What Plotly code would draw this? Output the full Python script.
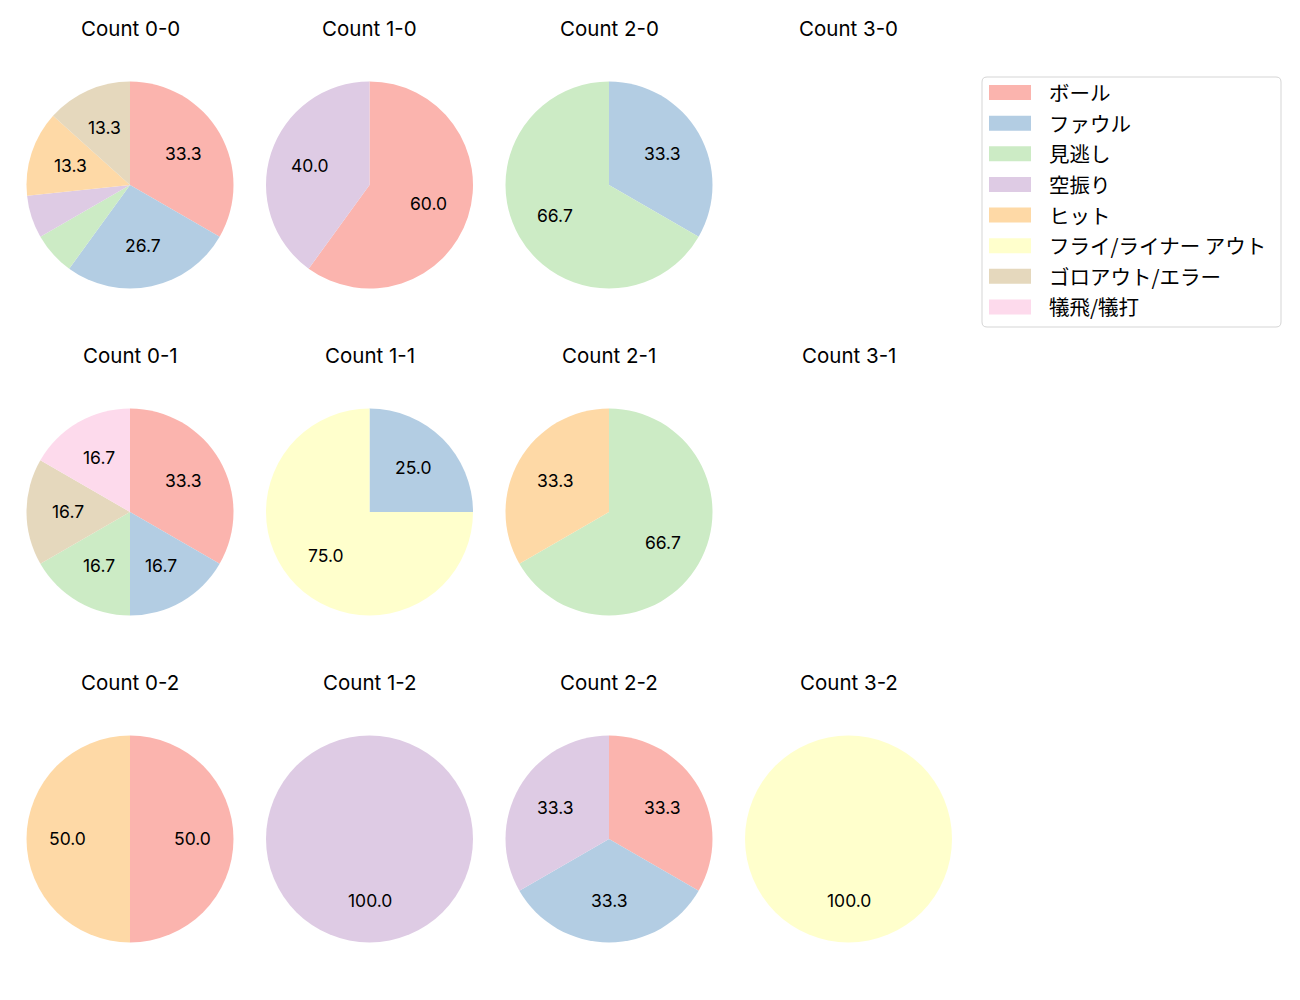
import math
import plotly.graph_objects as go

# ---- data ----
categories = ["ボール", "ファウル", "見逃し", "空振り", "ヒット",
              "フライ/ライナー アウト", "ゴロアウト/エラー", "犠飛/犠打"]
colors = ["#fbb4ae", "#b3cde3", "#ccebc5", "#decbe4", "#fed9a6",
          "#ffffcc", "#e5d8bd", "#fddaec"]

count_names = ["0-0", "1-0", "2-0", "3-0",
               "0-1", "1-1", "2-1", "3-1",
               "0-2", "1-2", "2-2", "3-2"]

c_0_0 = [5, 4, 1, 1, 2, 0, 2, 0]
c_1_0 = [3, 0, 0, 2, 0, 0, 0, 0]
c_2_0 = [0, 1, 2, 0, 0, 0, 0, 0]
c_3_0 = [0, 0, 0, 0, 0, 0, 0, 0]
c_0_1 = [2, 1, 1, 0, 0, 0, 1, 1]
c_1_1 = [0, 1, 0, 0, 0, 3, 0, 0]
c_2_1 = [0, 0, 2, 0, 1, 0, 0, 0]
c_3_1 = [0, 0, 0, 0, 0, 0, 0, 0]
c_0_2 = [1, 0, 0, 0, 1, 0, 0, 0]
c_1_2 = [0, 0, 0, 1, 0, 0, 0, 0]
c_2_2 = [1, 1, 0, 1, 0, 0, 0, 0]
c_3_2 = [0, 0, 0, 0, 0, 1, 0, 0]

count_values = [c_0_0, c_1_0, c_2_0, c_3_0,
                c_0_1, c_1_1, c_2_1, c_3_1,
                c_0_2, c_1_2, c_2_2, c_3_2]

# ---- layout helpers (pixels) ----
W, H = 1300, 1000
LATIN = "Inter, Noto Sans CJK JP"
CJK = "Noto Sans CJK JP"
col_x0, col_step = 130.0, 239.5
row_y0, row_step = 185.0, 327.0
R = 103.5
MIN_PCT_LABEL = 10.0


def px(x):
    return x / W


def py(y):
    return 1 - y / H


fig = go.Figure()
annotations = []
shapes = []

for i, (name, vals) in enumerate(zip(count_names, count_values)):
    row, col = divmod(i, 4)
    cx = col_x0 + col * col_step
    cy = row_y0 + row * row_step
    annotations.append(dict(
        text=f"Count {name}", x=px(cx), y=py(cy - 157), xref="paper", yref="paper",
        showarrow=False, xanchor="center", yanchor="middle",
        font=dict(family=LATIN, size=20.5, color="black")))
    total = sum(vals)
    if total == 0:
        continue
    labs = [c for c, v in zip(categories, vals) if v > 0]
    vs = [v for v in vals if v > 0]
    cols = [colors[k] for k, v in enumerate(vals) if v > 0]
    fig.add_trace(go.Pie(
        labels=labs, values=vs, sort=False, direction="clockwise", rotation=0,
        marker=dict(colors=cols, line=dict(width=0)),
        textinfo="none", hoverinfo="label+percent", showlegend=False,
        domain=dict(x=[px(cx - R), px(cx + R)], y=[py(cy + R), py(cy - R)])))
    # percentage labels at 0.6 radius (clockwise from 12 o'clock)
    start = 90.0
    for v in vs:
        sweep = 360.0 * v / total
        pct = 100.0 * v / total
        mid = math.radians(start - sweep / 2)
        tx = cx + 0.6 * R * math.cos(mid)
        ty = cy - 0.6 * R * math.sin(mid)
        if pct >= MIN_PCT_LABEL:
            annotations.append(dict(
                text=f"{pct:.1f}", x=px(tx), y=py(ty - 0.5),
                xref="paper", yref="paper", showarrow=False,
                xanchor="center", yanchor="middle",
                font=dict(family=LATIN, size=17.5, color="black")))
        start -= sweep

# ---- legend (drawn manually to mimic the reference) ----
lx0, lx1, ly0, ly1, rad = 982, 1281, 77, 327, 5


def rounded_box(x0, y0, x1, y1, r):
    pts = [
        f"M {px(x0 + r)},{py(y0)}",
        f"L {px(x1 - r)},{py(y0)}",
        f"Q {px(x1)},{py(y0)} {px(x1)},{py(y0 + r)}",
        f"L {px(x1)},{py(y1 - r)}",
        f"Q {px(x1)},{py(y1)} {px(x1 - r)},{py(y1)}",
        f"L {px(x0 + r)},{py(y1)}",
        f"Q {px(x0)},{py(y1)} {px(x0)},{py(y1 - r)}",
        f"L {px(x0)},{py(y0 + r)}",
        f"Q {px(x0)},{py(y0)} {px(x0 + r)},{py(y0)}",
        "Z",
    ]
    return " ".join(pts)


shapes.append(dict(type="path", xref="paper", yref="paper",
                   path=rounded_box(lx0, ly0, lx1, ly1, rad),
                   line=dict(color="#d5d5d5", width=1),
                   fillcolor="rgba(255,255,255,0.8)"))
row0, rstep = 92.5, 30.64
for k, (lab, colr) in enumerate(zip(categories, colors)):
    yc = row0 + k * rstep
    shapes.append(dict(type="rect", xref="paper", yref="paper",
                       x0=px(989), x1=px(1031), y0=py(yc + 7.5), y1=py(yc - 7.5),
                       line=dict(width=0), fillcolor=colr))
    annotations.append(dict(
        text=lab, x=px(1047), y=py(yc - 0.5), xref="paper", yref="paper",
        showarrow=False, xanchor="left", yanchor="middle",
        font=dict(family=CJK, size=20.5, color="black")))

fig.update_layout(
    width=W, height=H, margin=dict(l=0, r=0, t=0, b=0),
    paper_bgcolor="white", plot_bgcolor="white",
    annotations=annotations, shapes=shapes, showlegend=False,
)
fig.write_html("out.html")
